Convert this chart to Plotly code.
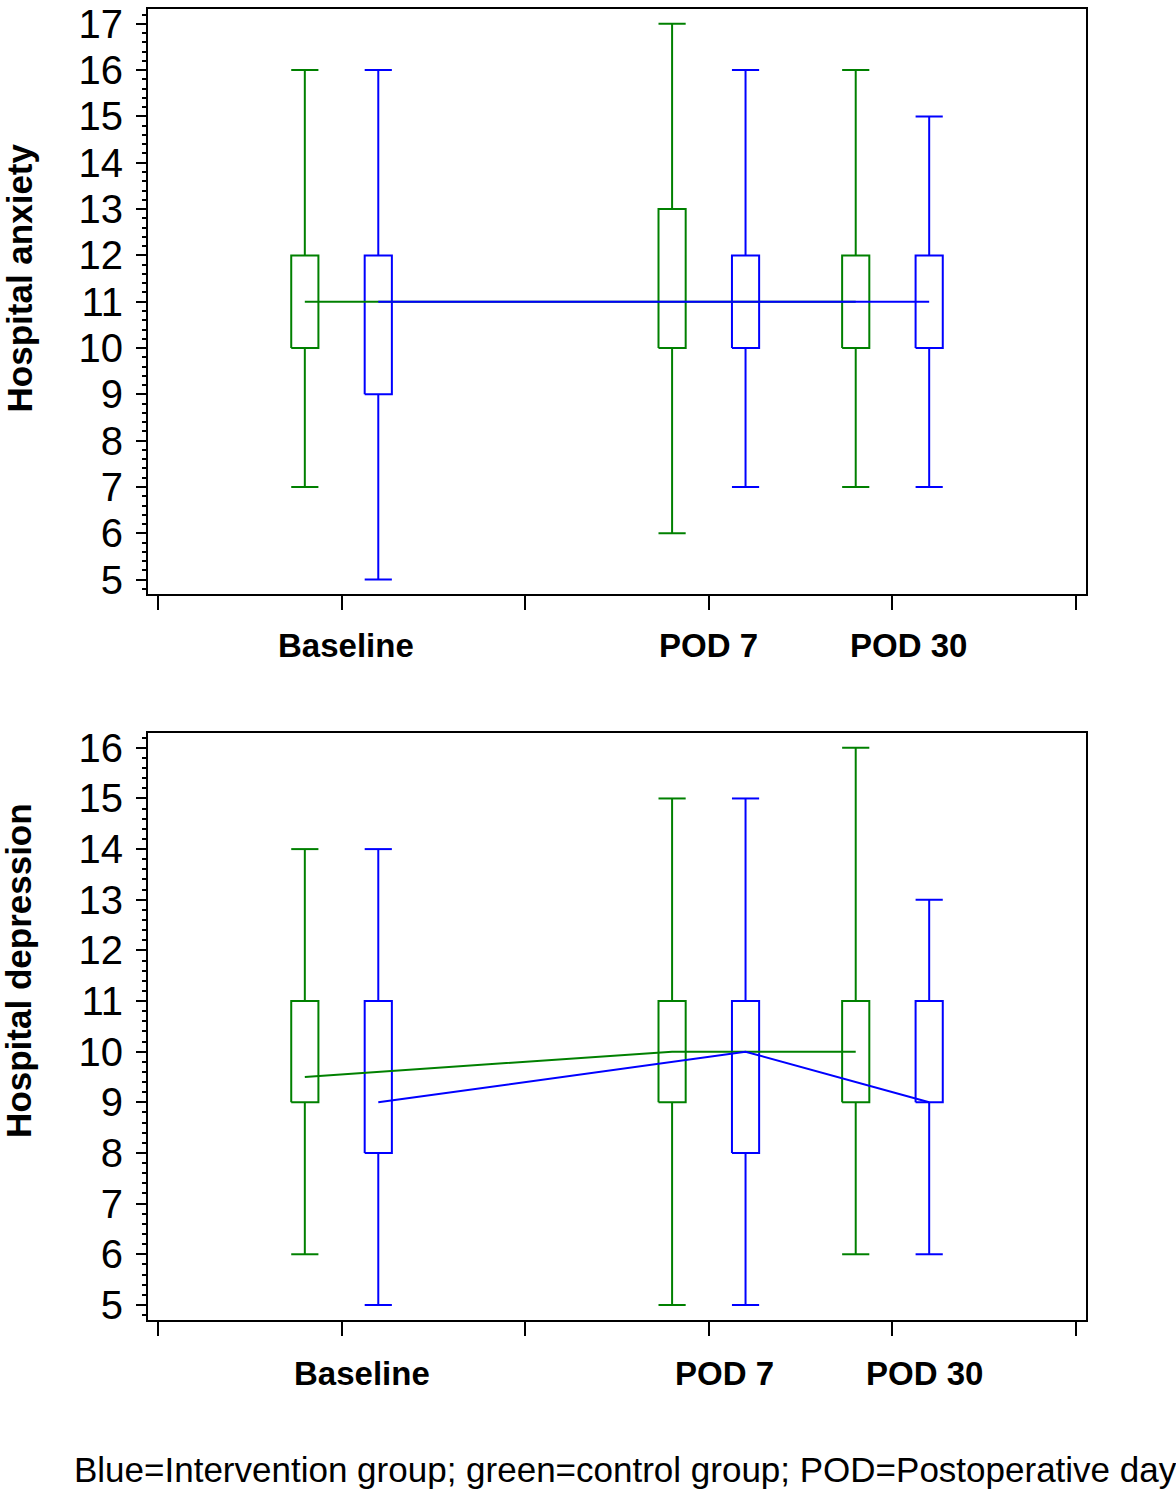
import plotly.graph_objects as go

# ---------------- data ----------------
timepoints = ["Baseline", "POD 7", "POD 30"]

# Hospital anxiety
anx_ctrl_low = [7, 6, 7]
anx_ctrl_q1 = [10, 10, 10]
anx_ctrl_med = [11, 11, 11]
anx_ctrl_q3 = [12, 13, 12]
anx_ctrl_high = [16, 17, 16]

anx_int_low = [5, 7, 7]
anx_int_q1 = [9, 10, 10]
anx_int_med = [11, 11, 11]
anx_int_q3 = [12, 12, 12]
anx_int_high = [16, 16, 15]

# Hospital depression
dep_ctrl_low = [6, 5, 6]
dep_ctrl_q1 = [9, 9, 9]
dep_ctrl_med = [9.5, 10, 10]
dep_ctrl_q3 = [11, 11, 11]
dep_ctrl_high = [14, 15, 16]

dep_int_low = [5, 5, 6]
dep_int_q1 = [8, 8, 9]
dep_int_med = [9, 10, 9]
dep_int_q3 = [11, 11, 11]
dep_int_high = [14, 15, 13]

footnote = "Blue=Intervention group; green=control group; POD=Postoperative day"

# ---------------- style / layout constants ----------------
TIME_AXIS_POS = [1, 3, 4]       # axis slot of each time point
LABEL_NUDGE = [0, -4, 12]       # small pixel nudges of the time labels
GROUP_OFFSET = 0.2
HALF_W = 0.074
GREEN = "#008000"
BLUE = "#0000FF"
FONT = "Liberation Sans, Arial, Helvetica, sans-serif"
W, H = 1176, 1495


def box_paths(centers, lo, q1, q3, hi, hw):
    xs, ys = [], []
    for xc, l, a, b, h in zip(centers, lo, q1, q3, hi):
        xs += [xc - hw, xc + hw, xc + hw, xc - hw, xc - hw, None,
               xc, xc, None, xc, xc, None,
               xc - hw, xc + hw, None, xc - hw, xc + hw, None]
        ys += [a, a, b, b, a, None,
               b, h, None, a, l, None,
               h, h, None, l, l, None]
    return xs, ys


fig = go.Figure()

panels = [
    (1, (anx_ctrl_low, anx_ctrl_q1, anx_ctrl_med, anx_ctrl_q3, anx_ctrl_high),
        (anx_int_low, anx_int_q1, anx_int_med, anx_int_q3, anx_int_high)),
    (2, (dep_ctrl_low, dep_ctrl_q1, dep_ctrl_med, dep_ctrl_q3, dep_ctrl_high),
        (dep_int_low, dep_int_q1, dep_int_med, dep_int_q3, dep_int_high)),
]

for idx, ctrl, intv in panels:
    xa = "x" if idx == 1 else "x2"
    ya = "y" if idx == 1 else "y2"
    c_x = [p - GROUP_OFFSET for p in TIME_AXIS_POS]
    i_x = [p + GROUP_OFFSET for p in TIME_AXIS_POS]
    for centers, stats, col, name in [(c_x, ctrl, GREEN, "Control"),
                                      (i_x, intv, BLUE, "Intervention")]:
        lo, q1, med, q3, hi = stats
        bx, by = box_paths(centers, lo, q1, q3, hi, HALF_W)
        fig.add_trace(go.Scatter(x=bx, y=by, mode="lines",
                                 line=dict(color=col, width=2),
                                 xaxis=xa, yaxis=ya, showlegend=False,
                                 name=name, hoverinfo="skip"))
    for centers, stats, col in [(c_x, ctrl, GREEN), (i_x, intv, BLUE)]:
        fig.add_trace(go.Scatter(x=centers, y=stats[2], mode="lines",
                                 line=dict(color=col, width=2),
                                 xaxis=xa, yaxis=ya, showlegend=False))

x_common = dict(range=[-0.054, 5.054], tickvals=[0, 1, 2, 3, 4, 5],
                showticklabels=False, ticks="outside", ticklen=14,
                tickwidth=2, tickcolor="black", showline=True, linewidth=2,
                linecolor="black", mirror=True, showgrid=False,
                zeroline=False, domain=[148 / W, 1086 / W])
y_common = dict(dtick=1, tick0=0, ticks="outside", ticklen=10, tickwidth=2,
                tickcolor="black", showline=True, linewidth=2,
                linecolor="black", mirror=True, showgrid=False,
                zeroline=False, ticklabelstandoff=5,
                tickfont=dict(family=FONT, size=40, color="black"),
                minor=dict(dtick=0.2, ticks="outside", ticklen=4,
                           tickwidth=1.5, tickcolor="black", showgrid=False))

fig.update_layout(
    width=W, height=H,
    margin=dict(l=0, r=0, t=0, b=0),
    paper_bgcolor="white", plot_bgcolor="white",
    font=dict(family=FONT, color="black"),
    xaxis=dict(**x_common, anchor="y"),
    xaxis2=dict(**x_common, anchor="y2"),
    yaxis=dict(**y_common, range=[4.68, 17.32], anchor="x",
               domain=[1 - 593 / H, 1 - 2 / H]),
    yaxis2=dict(**y_common, range=[4.71, 16.29], anchor="x2",
                domain=[1 - 1325 / H, 1 - 733 / H]),
)

annotations = []
for xref, ypix, shift in [("x", 645, 4), ("x2", 1379, 20)]:
    for label, pos, nudge in zip(timepoints, TIME_AXIS_POS, LABEL_NUDGE):
        annotations.append(dict(text=f"<b>{label}</b>", x=pos, xref=xref,
                                y=1 - ypix / H, yref="paper",
                                xshift=shift + nudge,
                                xanchor="center", yanchor="middle",
                                showarrow=False,
                                font=dict(family=FONT, size=33, color="black")))
for title, ypix in [("Hospital anxiety", 274), ("Hospital depression", 973)]:
    annotations.append(dict(text=f"<b>{title}</b>", x=19 / W, xref="paper",
                            y=1 - ypix / H, yref="paper", textangle=-90,
                            xanchor="center", yanchor="middle",
                            showarrow=False,
                            font=dict(family=FONT, size=35, color="black")))
annotations.append(dict(text=footnote, x=72 / W, xref="paper",
                        y=1 - 1476 / H, yref="paper", xanchor="left",
                        yanchor="middle", showarrow=False,
                        font=dict(family=FONT, size=35, color="black")))
fig.update_layout(annotations=annotations)

fig.write_html("out.html",
               config={"displayModeBar": False},
               post_script="document.body.style.margin='0';"
                           "document.body.style.padding='0';")
